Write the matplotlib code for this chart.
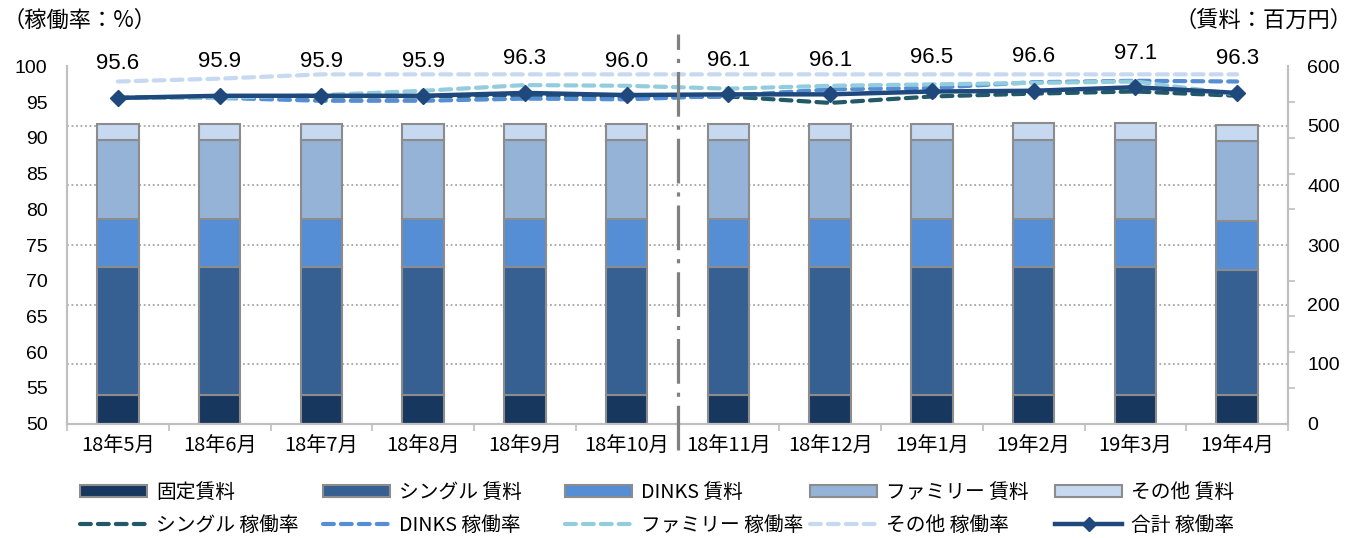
import matplotlib
matplotlib.use("Agg")
import matplotlib.pyplot as plt
import matplotlib.transforms as mtransforms
from matplotlib.patches import Patch
from matplotlib.lines import Line2D
import numpy as np

plt.rcParams["font.family"] = ["Liberation Sans", "Noto Sans CJK JP", "DejaVu Sans"]

months = ["18年5月", "18年6月", "18年7月", "18年8月", "18年9月", "18年10月",
          "18年11月", "18年12月", "19年1月", "19年2月", "19年3月", "19年4月"]

# rent (million yen), stacked
fixed_rent = [47.5, 47.5, 47.5, 47.5, 47.5, 47.5, 47.5, 47.5, 47.5, 47.5, 47.5, 47.5]
single_rent = [215, 215, 215, 215, 215, 215, 215, 215, 215, 215, 215, 211]
dinks_rent = [80.5, 80.5, 80.5, 80.5, 80.5, 80.5, 80.5, 80.5, 80.5, 80.5, 80.5, 81]
family_rent = [133, 133, 133, 133, 133, 133, 133, 133, 133, 134, 134, 135]
other_rent = [28, 28, 28, 28, 28, 28, 28, 28, 28, 28, 28, 28]

# occupancy (%)
single_occ = [95.6, 95.8, 95.8, 95.8, 96.0, 95.7, 95.8, 94.9, 95.8, 96.2, 96.5, 95.9]
dinks_occ = [95.6, 95.6, 95.2, 95.2, 95.5, 95.4, 95.9, 96.8, 97.0, 97.8, 98.0, 97.9]
family_occ = [95.6, 95.6, 96.0, 96.6, 97.4, 97.3, 96.9, 97.3, 97.5, 97.7, 97.9, 96.1]
other_occ = [97.9, 98.3, 98.9, 98.9, 98.9, 98.9, 98.9, 98.9, 98.9, 98.9, 98.9, 98.9]
total_occ = [95.6, 95.9, 95.9, 95.9, 96.3, 96.0, 96.1, 96.1, 96.5, 96.6, 97.1, 96.3]

bar_names = ["固定賃料", "シングル 賃料", "DINKS 賃料", "ファミリー 賃料", "その他 賃料"]
bar_colors = ["#17375E", "#376092", "#558ED5", "#95B3D7", "#C6D9F1"]
line_names = ["シングル 稼働率", "DINKS 稼働率", "ファミリー 稼働率", "その他 稼働率", "合計 稼働率"]
line_colors = ["#215968", "#558ED5", "#93CDDD", "#C6D9F1", "#1F497D"]

W, H = 1357, 538
fig = plt.figure(figsize=(W / 100, H / 100), dpi=100)
ax = fig.add_axes([67 / W, 1 - 423.5 / H, (1288 - 67) / W, (423.5 - 66.5) / H])
ax2 = ax.twinx()
ax.set_zorder(ax2.get_zorder() + 1)
ax.patch.set_visible(False)

x = np.arange(len(months))
edge = "#8C8C8C"

# bars on right axis
bottom = np.zeros(len(months))
for vals, col in zip([fixed_rent, single_rent, dinks_rent, family_rent, other_rent], bar_colors):
    ax2.bar(x, vals, 0.41, bottom=bottom, color=col, edgecolor=edge, linewidth=1.5, zorder=2)
    bottom += np.array(vals)

ax2.set_ylim(0, 600)
ax2.set_yticks(np.arange(0, 601, 100))
ax2.set_yticks(np.arange(0, 601, 60), minor=True)
ax2.tick_params(axis="y", which="major", length=0, pad=14, labelsize=14)
ax2.tick_params(axis="y", which="minor", length=5, width=1.2, color="#BFBFBF")
for lab in ax2.get_yticklabels():
    lab.set_horizontalalignment("left")
ax2.yaxis.grid(True, which="major", linestyle=(0, (1, 1.5)), color="#A6A6A6", linewidth=1.3)
ax2.set_axisbelow(True)

# lines on left axis
dash = (0, (2.6, 1.7))
for vals, col in zip([single_occ, dinks_occ, family_occ, other_occ], line_colors[:4]):
    ax.plot(x, vals, color=col, linewidth=3, linestyle=dash, dash_capstyle="round", zorder=3)
ax.plot(x, total_occ, color=line_colors[4], linewidth=3.2, marker="D", markersize=8.5, zorder=4)

for xi, v in zip(x, total_occ):
    ax.annotate(f"{v:.1f}", (xi, v), xytext=(0, 20.5), textcoords="offset points",
                ha="center", va="baseline", fontsize=16, annotation_clip=False)

ax.set_ylim(50, 100)
ax.set_yticks(np.arange(50, 101, 5))
ax.tick_params(axis="y", length=0, pad=14, labelsize=14)
ax.set_xlim(-0.5, len(months) - 0.5)
ax.set_xticks(x)
ax.set_xticklabels(months, fontsize=14.5, family=["Noto Sans CJK JP"])
ax.set_xticks(np.arange(-0.5, len(months), 1), minor=True)
ax.tick_params(axis="x", which="major", length=0, pad=9)
ax.tick_params(axis="x", which="minor", length=5, width=1.2, color="#BFBFBF")
ax2.tick_params(axis="x", which="both", length=0)

for a in (ax, ax2):
    a.spines["top"].set_visible(False)
    for s in ("left", "right", "bottom"):
        a.spines[s].set_color("#BFBFBF")
        a.spines[s].set_linewidth(1.5)

# divider between Oct and Nov
trans = mtransforms.blended_transform_factory(ax.transData, ax.transAxes)
ax.plot([5.5, 5.5], [-0.075, 1.09], transform=trans, color="#808080", linewidth=2.3,
        linestyle=(0, (14, 2.8, 1.3, 2.8)), clip_on=False, zorder=5)

fig.text(3 / W, 1 - 20 / H, "（稼働率：%）", fontsize=16, va="center", ha="left",
         family=["Noto Sans CJK JP"])
fig.text(1352 / W, 1 - 20 / H, "（賃料：百万円）", fontsize=16, va="center", ha="right",
         family=["Noto Sans CJK JP"])

# legend: five columns, bars on top row, lines below
col_x = [80, 323, 565, 810, 1055]
for i in range(5):
    bh = Patch(facecolor=bar_colors[i], edgecolor=edge, linewidth=1.5)
    if i < 4:
        lh = Line2D([], [], color=line_colors[i], linewidth=3, linestyle=dash, dash_capstyle="round")
    else:
        lh = Line2D([], [], color=line_colors[i], linewidth=3.2, marker="D", markersize=7)
    fig.legend([bh, lh], [bar_names[i], line_names[i]], loc="upper left",
               bbox_to_anchor=(col_x[i] / W, 1 - 482 / H), frameon=False, borderpad=0,
               borderaxespad=0, handlelength=3.4, handleheight=0.55, handletextpad=0.45,
               labelspacing=0.6, numpoints=1, prop={"family": ["Noto Sans CJK JP"], "size": 14.2})

fig.savefig("out.png", dpi=100)
